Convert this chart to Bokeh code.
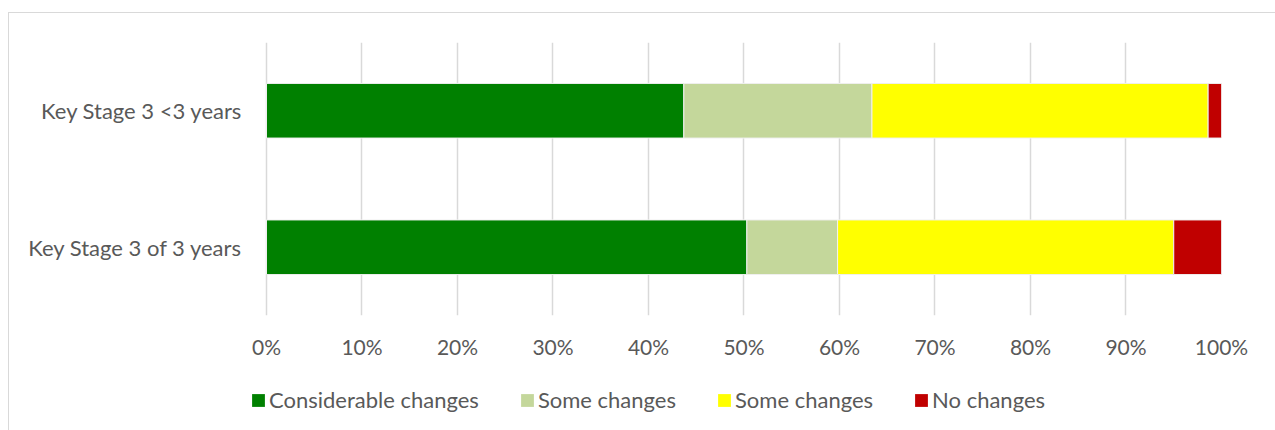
from bokeh.plotting import figure
from bokeh.layouts import column
from bokeh.models import FactorRange, Range1d, NumeralTickFormatter, FixedTicker, Legend, LegendItem
from bokeh.embed import file_html
from bokeh.resources import INLINE

categories = ["Key Stage 3 of 3 years", "Key Stage 3 <3 years"]
series_names = ["Considerable changes", "Some changes", "Some changes", "No changes"]
considerable = [0.503, 0.437]
some_green = [0.095, 0.197]
some_yellow = [0.352, 0.352]
no_changes = [0.050, 0.014]
colors = ["#008000", "#C4D79B", "#FFFF00", "#C00000"]
tick_values = [0.0, 0.1, 0.2, 0.3, 0.4, 0.5, 0.6, 0.7, 0.8, 0.9, 1.0]

FONT = "Lato"
TEXT = "#595959"

data = {"cat": categories, "s0": considerable, "s1": some_green, "s2": some_yellow, "s3": no_changes}

# small left pad of the x range so the legend strip below can start a little left of 0%
p = figure(y_range=FactorRange(*categories, range_padding=0), x_range=Range1d(-0.01675, 1),
           width=1266, height=365, output_backend="svg", toolbar_location=None,
           min_border_left=241, min_border_right=54, min_border_top=29, min_border_bottom=63)

p.hbar_stack(["s0", "s1", "s2", "s3"], y="cat", height=0.4, color=colors,
             line_color="#f0f0f0", line_width=1, source=data)

p.outline_line_color = None
p.ygrid.grid_line_color = None
p.xgrid.grid_line_color = "#d9d9d9"
p.xgrid.grid_line_width = 1.5
p.xaxis.ticker = FixedTicker(ticks=tick_values)
p.xaxis.formatter = NumeralTickFormatter(format="0%")
for ax in (p.xaxis, p.yaxis):
    ax.axis_line_color = None
    ax.major_tick_line_color = None
    ax.minor_tick_line_color = None
    ax.major_label_text_font = FONT
    ax.major_label_text_color = TEXT
p.xaxis.major_label_text_font_size = "21px"
p.yaxis.major_label_text_font_size = "22px"
p.xaxis.major_label_standoff = 12
p.yaxis.major_label_standoff = 2

# legend strip
q = figure(x_range=(0, 1), y_range=(0, 1), width=1266, height=52, output_backend="svg",
           toolbar_location=None, min_border=0)
q.axis.visible = False
q.grid.grid_line_color = None
q.outline_line_color = None
dummies = [q.hbar(y=[0.5], left=[0], right=[0], height=0, color=c, line_alpha=0) for c in colors]
items = [LegendItem(label=n, renderers=[r]) for n, r in zip(series_names, dummies)]
legend = Legend(items=items, orientation="horizontal", location=(0, 17),
                glyph_width=16, glyph_height=16, label_standoff=3, spacing=40,
                padding=0, margin=0, border_line_color=None, background_fill_alpha=0,
                label_text_font=FONT, label_text_font_size="22px", label_text_color=TEXT)
q.add_layout(legend, "center")

layout = column(p, q, spacing=0)
layout.styles = {"border-left": "1px solid #d9d9d9", "border-top": "1px solid #d9d9d9",
                 "margin-top": "12px", "margin-left": "8px"}

open("out.html", "w").write(file_html(layout, INLINE))
